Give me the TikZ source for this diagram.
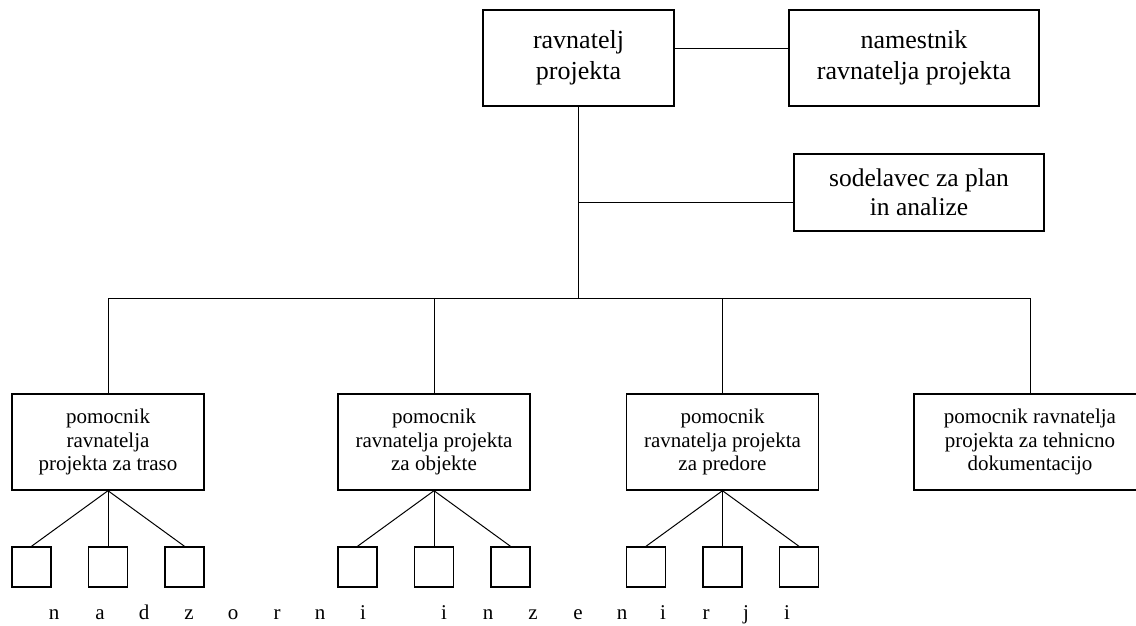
\documentclass[tikz,border=0pt]{standalone}
\usepackage{fontspec}
\setmainfont{Liberation Serif}
\begin{document}
\begin{tikzpicture}[x=1pt,y=-1pt,
  box/.style={draw,line width=1.4pt,rectangle,inner sep=0pt,align=center,
    minimum height=96pt},
  topbox/.style={box,font=\fontsize{26}{31}\selectfont},
  planbox/.style={box,minimum height=77pt,font=\fontsize{25.5}{29}\selectfont},
  subbox/.style={box,minimum width=192pt,font=\fontsize{21}{23.5}\selectfont},
  sq/.style={draw,line width=1.4pt,rectangle,inner sep=0pt,minimum width=39pt,minimum height=40pt},
  link/.style={line width=1pt},
  letter/.style={anchor=base,inner sep=0pt,font=\fontsize{21}{23}\selectfont}]
\useasboundingbox (0,0) rectangle (1136,625);

% management level
\node[topbox,minimum width=191pt] (dir) at (578.5,58) {ravnatelj\\projekta};
\node[topbox,minimum width=250pt] (dep) at (914,58) {namestnik\\ravnatelja projekta};
\node[planbox,minimum width=250pt] (plan) at (919,192.5) {sodelavec za plan\\in analize};

% assistants
\node[subbox] (a1) at (108,442) {pomocnik\\ravnatelja\\projekta za traso};
\node[subbox] (a2) at (434,442) {pomocnik\\ravnatelja projekta\\za objekte};
\node[subbox] (a3) at (722.5,442) {pomocnik\\ravnatelja projekta\\za predore};
\node[subbox,minimum width=232pt] (a4) at (1030,442) {pomocnik ravnatelja\\projekta za tehnicno\\dokumentacijo};

% supervising engineers under the first three assistants
\foreach \a in {a1,a2,a3}{
  \node[sq] (\a l) at ([xshift=-76.5pt]\a.south |- 0,567) {};
  \node[sq] (\a m) at (\a.south |- 0,567) {};
  \node[sq] (\a r) at ([xshift=76.5pt]\a.south |- 0,567) {};
  \draw[link] (\a.south) -- (\a l.north);
  \draw[link] (\a.south) -- (\a m.north);
  \draw[link] (\a.south) -- (\a r.north);
}

% connectors
\coordinate (bus) at (0,298);
\coordinate (planin) at ([yshift=-9.5pt]plan.west);
\draw[link] ([yshift=10pt]dir.east) -- ([yshift=10pt]dep.west);
\draw[link] (dir.south) -- (dir.south |- bus);
\draw[link] (dir.south |- planin) -- (planin);
\draw[link] (a1.north) |- (a4.north |- bus) -- (a4.north);
\draw[link] (a2.north) -- (a2.north |- bus);
\draw[link] (a3.north) -- (a3.north |- bus);

% spaced caption
\foreach \c/\x [count=\i] in {n/54,a/100,d/144,z/189,o/233,r/277,n/320,i/363,
  i/444,n/488,z/533,e/578,n/622,i/663,r/706,j/746,i/787}
  \node[letter] (c\i) at (\x,619) {\c};
\end{tikzpicture}
\end{document}
